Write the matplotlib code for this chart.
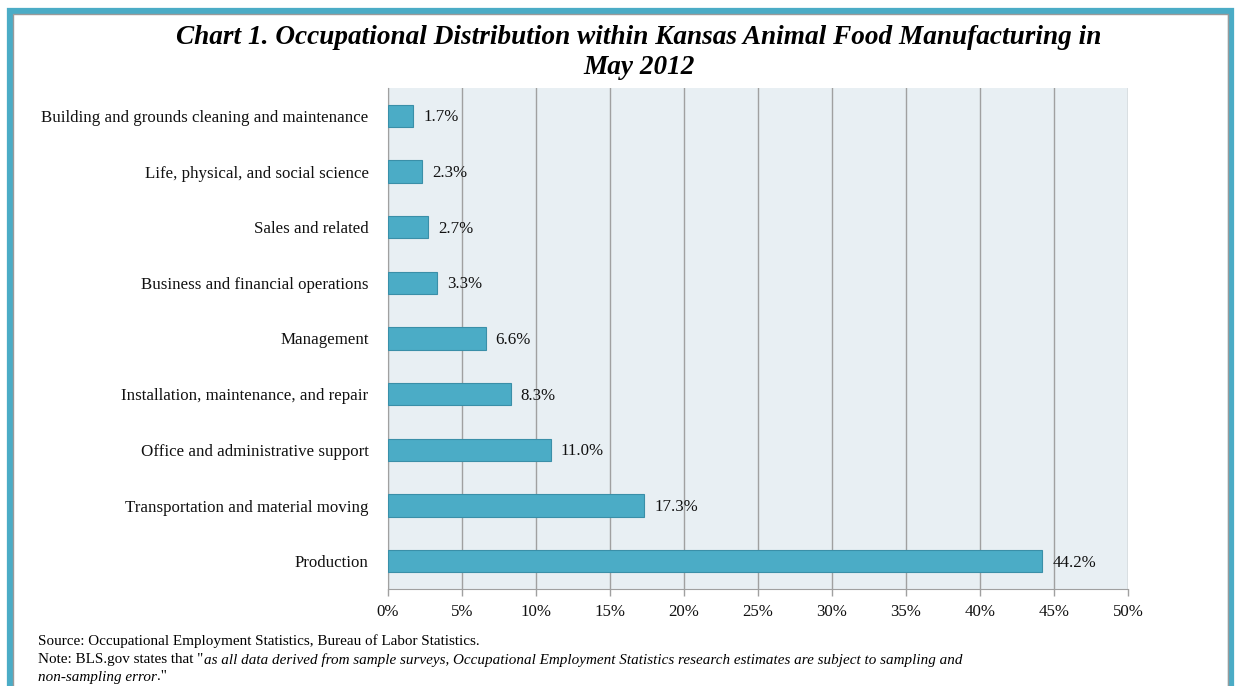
import matplotlib
matplotlib.use("Agg")
import matplotlib.pyplot as plt
from matplotlib.patches import Rectangle

# Chart data (top to bottom as shown)
occupations = [
    "Building and grounds cleaning and maintenance",
    "Life, physical, and social science",
    "Sales and related",
    "Business and financial operations",
    "Management",
    "Installation, maintenance, and repair",
    "Office and administrative support",
    "Transportation and material moving",
    "Production",
]
shares = [1.7, 2.3, 2.7, 3.3, 6.6, 8.3, 11.0, 17.3, 44.2]
x_ticks = [0, 5, 10, 15, 20, 25, 30, 35, 40, 45, 50]

title_lines = ["Chart 1. Occupational Distribution within Kansas Animal Food Manufacturing in",
               "May 2012"]
source_line = "Source: Occupational Employment Statistics, Bureau of Labor Statistics."

plt.rcParams["font.family"] = ["Liberation Serif", "DejaVu Serif"]

W, H = 1235, 686
fig = plt.figure(figsize=(W / 100, H / 100), dpi=100)
fig.patch.set_facecolor("white")

# teal frame around the chart (bottom runs off the image)
fig.patches.append(Rectangle((9.5 / W, -0.1), (1231 - 9.5) / W, 1.1 - 10.5 / H,
                             transform=fig.transFigure, fill=False,
                             edgecolor="#4bacc6", linewidth=4.5, zorder=0))
fig.patches.append(Rectangle((12.5 / W, -0.1), (1227.5 - 12.5) / W, 1.1 - 13.5 / H,
                             transform=fig.transFigure, fill=False,
                             edgecolor="#9a9a9a", linewidth=1.0, zorder=0))

left, right, top, bottom = 388, 1128, 88, 589
ax = fig.add_axes([left / W, 1 - bottom / H, (right - left) / W, (bottom - top) / H])
ax.set_facecolor("#e8eff3")

lab_fs = 12.2
y = list(range(len(occupations)))
ax.barh(y, shares, height=0.4, color="#4bacc6", edgecolor="#3a8fa8",
        linewidth=0.8, zorder=3)
for yi, v in zip(y, shares):
    ax.annotate(f"{v:.1f}%", (v, yi), xytext=(7.2, -1), textcoords="offset points",
                va="center", ha="left", fontsize=lab_fs, color="#111111", zorder=4)

ax.set_ylim(len(occupations) - 0.5, -0.5)
ax.set_xlim(0, 50)
ax.set_yticks(y)
ax.set_yticklabels(occupations, fontsize=lab_fs, color="#111111")
ax.tick_params(axis="y", length=0, pad=14)
ax.set_xticks(x_ticks)
ax.set_xticklabels([f"{t}%" for t in x_ticks], fontsize=lab_fs, color="#111111")
ax.tick_params(axis="x", length=5, width=1, color="#a0a0a0", pad=6)
ax.grid(axis="x", color="#a0a0a0", linewidth=1, zorder=1)
for s in ["top", "right"]:
    ax.spines[s].set_visible(False)
ax.spines["left"].set_color("#a0a0a0")
ax.spines["bottom"].set_color("#a0a0a0")

for line, ypix in zip(title_lines, [37, 68]):
    fig.text(639 / W, 1 - ypix / H, line, ha="center", va="center", fontsize=19.6,
             fontweight="bold", fontstyle="italic")

fs = 10.9
fig.text(38 / W, 1 - 641 / H, source_line, fontsize=fs, va="center")

# note line with mixed regular / italic runs
fig.canvas.draw()
r = fig.canvas.get_renderer()
def run(x, ypix, s, style="normal"):
    t = fig.text(x / W, 1 - ypix / H, s, fontsize=fs, va="center", fontstyle=style)
    return t.get_window_extent(r).x1

xe = run(38, 660, "Note: BLS.gov states that \"")
run(xe + 1, 660, "as all data derived from sample surveys, Occupational Employment Statistics "
    "research estimates are subject to sampling and", "italic")
xe = run(38, 677, "non-sampling error", "italic")
run(xe, 677, ".\"")

fig.savefig("out.png", dpi=100, facecolor="white")
